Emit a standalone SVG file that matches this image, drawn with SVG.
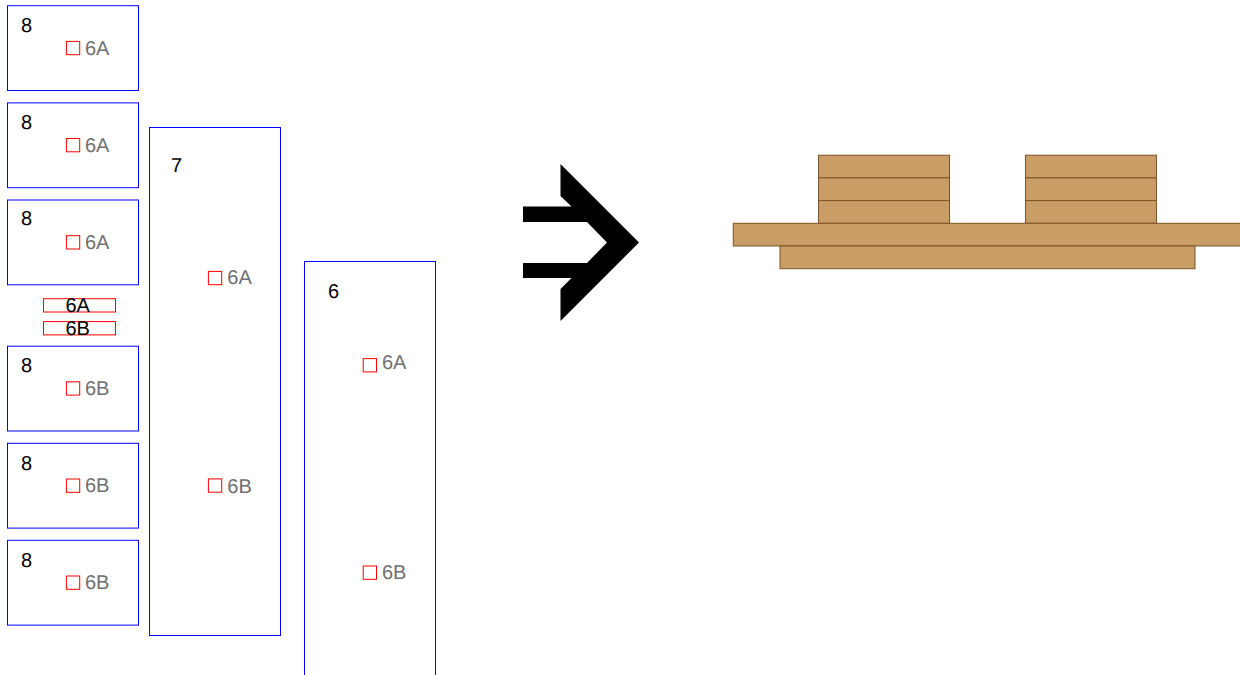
<svg xmlns="http://www.w3.org/2000/svg" width="1240" height="675" viewBox="0 0 1240 675">
<style>
.box{fill:#fff;stroke:#0000ff;stroke-width:1}
.pin{fill:none;stroke:#ff0000;stroke-width:1}
.plank{fill:#c89d66;stroke:#7f5227;stroke-width:1}
text{font-family:"Liberation Sans",Arial,sans-serif;font-size:20px;text-rendering:geometricPrecision}
.n{fill:#000}
.g{fill:#707070}
</style>
<g id="part-8-1"><rect class="box" x="7.5" y="5.7" width="131" height="84.8"/><text class="n" x="21" y="32">8</text><rect class="pin" x="66.4" y="41.4" width="13.3" height="13.3"/><text class="g" x="85" y="55">6A</text></g>
<g id="part-8-2"><rect class="box" x="7.5" y="102.9" width="131" height="84.8"/><text class="n" x="21" y="129">8</text><rect class="pin" x="66.4" y="138.5" width="13.3" height="13.3"/><text class="g" x="85" y="152">6A</text></g>
<g id="part-8-3"><rect class="box" x="7.5" y="200" width="131" height="84.8"/><text class="n" x="21" y="225">8</text><rect class="pin" x="66.4" y="235.7" width="13.3" height="13.3"/><text class="g" x="85" y="249">6A</text></g>
<g id="legend-6A"><rect class="pin" x="43.5" y="298.7" width="72" height="13.3"/><text class="n" x="65.5" y="312">6A</text></g>
<g id="legend-6B"><rect class="pin" x="43.5" y="321.6" width="72" height="13.3"/><text class="n" x="65.5" y="335">6B</text></g>
<g id="part-8-4"><rect class="box" x="7.5" y="346.2" width="131" height="84.8"/><text class="n" x="21" y="372">8</text><rect class="pin" x="66.4" y="381.8" width="13.3" height="13.3"/><text class="g" x="85" y="395">6B</text></g>
<g id="part-8-5"><rect class="box" x="7.5" y="443.3" width="131" height="84.8"/><text class="n" x="21" y="469.5">8</text><rect class="pin" x="66.4" y="479" width="13.3" height="13.3"/><text class="g" x="85" y="492">6B</text></g>
<g id="part-8-6"><rect class="box" x="7.5" y="540.3" width="131" height="84.8"/><text class="n" x="21" y="566.5">8</text><rect class="pin" x="66.4" y="576" width="13.3" height="13.3"/><text class="g" x="85" y="589">6B</text></g>
<g id="part-7"><rect class="box" x="149.5" y="127.5" width="131" height="508"/><text class="n" x="171" y="172">7</text><rect class="pin" x="208.4" y="271.4" width="13.3" height="13.3"/><text class="g" x="227.3" y="284">6A</text><rect class="pin" x="208.4" y="478.9" width="13.3" height="13.3"/><text class="g" x="227.3" y="493">6B</text></g>
<g id="part-6"><rect class="box" x="304.5" y="261.5" width="131" height="430"/><text class="n" x="328" y="298">6</text><rect class="pin" x="363.2" y="358.6" width="13.3" height="13.3"/><text class="g" x="382" y="369">6A</text><rect class="pin" x="363.2" y="566" width="13.3" height="13.3"/><text class="g" x="382" y="579">6B</text></g>
<g id="arrow"><polygon fill="#000" points="560.5,164 639,242.5 560.5,321 560.5,289 571.5,278 523,278 523,263 587,263 607,242.5 587,222 523,222 523,206.5 571.5,206.5 560.5,196"/></g>
<g id="assembly">
<rect class="plank" x="818.5" y="155.2" width="131" height="22.7"/>
<rect class="plank" x="818.5" y="177.9" width="131" height="22.7"/>
<rect class="plank" x="818.5" y="200.6" width="131" height="22.7"/>
<rect class="plank" x="1025.5" y="155.2" width="131" height="22.7"/>
<rect class="plank" x="1025.5" y="177.9" width="131" height="22.7"/>
<rect class="plank" x="1025.5" y="200.6" width="131" height="22.7"/>
<rect class="plank" x="733.3" y="223.3" width="520" height="22.7"/>
<rect class="plank" x="780" y="246" width="415" height="22.7"/>
</g>
</svg>
